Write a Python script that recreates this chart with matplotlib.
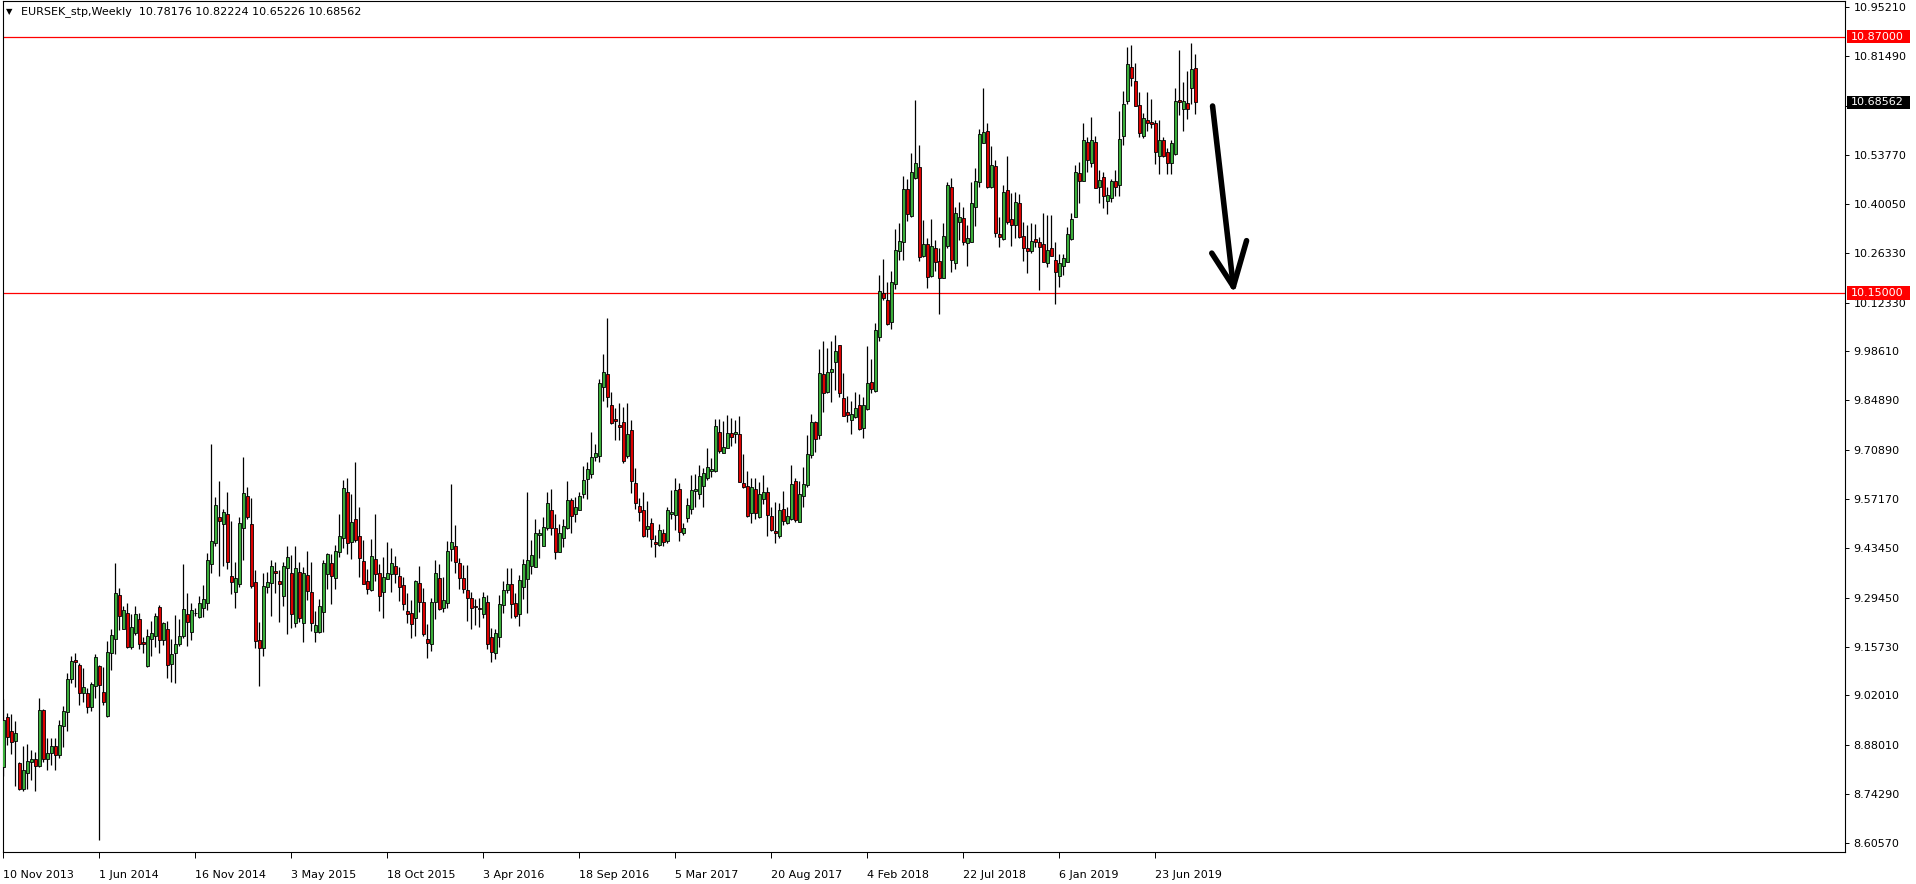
import matplotlib
matplotlib.use('Agg')
import matplotlib.pyplot as plt
from matplotlib.patches import Rectangle
from matplotlib.transforms import blended_transform_factory

# weekly EURSEK candles (oldest first)
opens = [
    8.820, 8.959, 8.919, 8.893, 8.831, 8.758, 8.803, 8.834, 8.841, 8.823,
    8.979, 8.842, 8.860, 8.878, 8.853, 8.935, 8.975, 9.065, 9.120, 9.106,
    9.026, 9.026, 8.989, 9.048, 9.103, 9.029, 8.963, 9.138, 9.178, 9.302,
    9.208, 9.253, 9.155, 9.195, 9.234, 9.169, 9.103, 9.178, 9.188, 9.268,
    9.176, 9.207, 9.108, 9.138, 9.164, 9.188, 9.248, 9.199, 9.251, 9.241,
    9.265, 9.279, 9.388, 9.447, 9.520, 9.501, 9.531, 9.355, 9.312, 9.333,
    9.489, 9.580, 9.501, 9.338, 9.176, 9.154, 9.326, 9.337, 9.370, 9.341,
    9.300, 9.377, 9.363, 9.224, 9.366, 9.223, 9.357, 9.310, 9.197, 9.197,
    9.255, 9.361, 9.391, 9.351, 9.424, 9.463, 9.590, 9.452, 9.515, 9.467,
    9.398, 9.341, 9.315, 9.403, 9.363, 9.312, 9.348, 9.362, 9.384, 9.355,
    9.329, 9.257, 9.251, 9.237, 9.335, 9.282, 9.178, 9.164, 9.282, 9.351,
    9.265, 9.281, 9.430, 9.439, 9.392, 9.351, 9.316, 9.293, 9.271, 9.267,
    9.248, 9.282, 9.183, 9.138, 9.185, 9.273, 9.315, 9.332, 9.280, 9.248,
    9.324, 9.346, 9.385, 9.382, 9.472, 9.441, 9.491, 9.540, 9.489, 9.424,
    9.463, 9.489, 9.568, 9.529, 9.541, 9.585, 9.627, 9.641, 9.690, 9.693,
    9.885, 9.922, 9.837, 9.795, 9.779, 9.787, 9.693, 9.765, 9.618, 9.552,
    9.541, 9.488, 9.503, 9.452, 9.443, 9.475, 9.455, 9.530, 9.527, 9.600,
    9.477, 9.519, 9.545, 9.595, 9.585, 9.609, 9.630, 9.649, 9.649, 9.761,
    9.702, 9.716, 9.758, 9.753, 9.754, 9.618, 9.608, 9.533, 9.599, 9.522,
    9.572, 9.590, 9.524, 9.483, 9.469, 9.543, 9.505, 9.516, 9.622, 9.508,
    9.581, 9.611, 9.695, 9.787, 9.750, 9.922, 9.873, 9.929, 9.955, 10.003,
    9.854, 9.816, 9.794, 9.803, 9.836, 9.770, 9.824, 9.899, 9.876, 10.027,
    10.149, 10.130, 10.068, 10.174, 10.269, 10.292, 10.441, 10.367, 10.472, 10.504,
    10.255, 10.289, 10.199, 10.275, 10.240, 10.193, 10.283, 10.447, 10.233, 10.348,
    10.360, 10.290, 10.294, 10.392, 10.462, 10.572, 10.605, 10.447, 10.507, 10.316,
    10.301, 10.438, 10.358, 10.341, 10.403, 10.310, 10.277, 10.269, 10.302, 10.293,
    10.289, 10.235, 10.275, 10.243, 10.199, 10.227, 10.238, 10.301, 10.364, 10.486,
    10.465, 10.574, 10.514, 10.573, 10.449, 10.476, 10.409, 10.418, 10.464, 10.452,
    10.592, 10.689, 10.784, 10.745, 10.677, 10.592, 10.636, 10.630, 10.626, 10.536,
    10.580, 10.546, 10.514, 10.539, 10.691, 10.666, 10.683, 10.725, 10.78176,
]
highs = [
    9.009, 8.970, 8.968, 8.948, 8.834, 8.878, 8.884, 8.867, 8.862, 9.014,
    8.981, 8.900, 8.900, 8.900, 8.951, 8.991, 9.082, 9.131, 9.140, 9.110,
    9.098, 9.040, 9.059, 9.137, 9.105, 9.101, 9.174, 9.207, 9.391, 9.321,
    9.271, 9.279, 9.249, 9.271, 9.253, 9.185, 9.206, 9.229, 9.253, 9.274,
    9.227, 9.229, 9.179, 9.246, 9.234, 9.389, 9.307, 9.281, 9.267, 9.300,
    9.330, 9.419, 9.726, 9.578, 9.622, 9.545, 9.592, 9.510, 9.395, 9.520,
    9.690, 9.604, 9.574, 9.372, 9.225, 9.363, 9.368, 9.400, 9.396, 9.372,
    9.394, 9.440, 9.414, 9.440, 9.396, 9.382, 9.426, 9.395, 9.257, 9.290,
    9.400, 9.419, 9.417, 9.443, 9.530, 9.625, 9.630, 9.586, 9.675, 9.548,
    9.457, 9.374, 9.459, 9.531, 9.388, 9.409, 9.450, 9.435, 9.412, 9.382,
    9.354, 9.307, 9.288, 9.344, 9.384, 9.323, 9.221, 9.295, 9.400, 9.388,
    9.354, 9.455, 9.614, 9.499, 9.407, 9.386, 9.386, 9.312, 9.291, 9.293,
    9.311, 9.302, 9.209, 9.207, 9.302, 9.341, 9.379, 9.379, 9.309, 9.358,
    9.402, 9.590, 9.457, 9.516, 9.487, 9.522, 9.590, 9.600, 9.530, 9.502,
    9.516, 9.622, 9.575, 9.578, 9.590, 9.664, 9.675, 9.760, 9.726, 9.909,
    9.979, 10.079, 9.871, 9.826, 9.840, 9.829, 9.840, 9.793, 9.660, 9.574,
    9.592, 9.567, 9.517, 9.471, 9.501, 9.487, 9.550, 9.597, 9.632, 9.616,
    9.503, 9.575, 9.639, 9.642, 9.667, 9.660, 9.714, 9.686, 9.796, 9.796,
    9.791, 9.807, 9.800, 9.793, 9.805, 9.698, 9.649, 9.630, 9.630, 9.619,
    9.639, 9.606, 9.550, 9.564, 9.560, 9.594, 9.548, 9.667, 9.630, 9.622,
    9.661, 9.751, 9.810, 9.791, 9.993, 10.015, 9.997, 10.015, 10.032, 10.005,
    9.925, 9.861, 9.848, 9.871, 9.866, 9.859, 10.001, 9.964, 10.067, 10.201,
    10.245, 10.181, 10.213, 10.330, 10.347, 10.479, 10.469, 10.544, 10.692, 10.566,
    10.355, 10.304, 10.358, 10.299, 10.275, 10.346, 10.463, 10.472, 10.392, 10.405,
    10.392, 10.341, 10.461, 10.500, 10.610, 10.725, 10.626, 10.563, 10.523, 10.364,
    10.453, 10.535, 10.430, 10.433, 10.428, 10.348, 10.341, 10.347, 10.344, 10.308,
    10.374, 10.369, 10.369, 10.292, 10.260, 10.260, 10.336, 10.374, 10.509, 10.519,
    10.626, 10.589, 10.643, 10.591, 10.495, 10.491, 10.449, 10.471, 10.495, 10.661,
    10.718, 10.840, 10.846, 10.795, 10.715, 10.654, 10.715, 10.694, 10.636, 10.636,
    10.589, 10.556, 10.580, 10.725, 10.832, 10.741, 10.774, 10.851, 10.82224,
]
lows = [
    8.795, 8.881, 8.855, 8.767, 8.755, 8.753, 8.758, 8.783, 8.753, 8.820,
    8.834, 8.811, 8.825, 8.811, 8.845, 8.876, 8.921, 9.056, 9.045, 8.993,
    9.003, 8.970, 8.977, 9.014, 8.613, 8.993, 8.961, 9.093, 9.136, 9.204,
    9.207, 9.153, 9.150, 9.190, 9.152, 9.138, 9.101, 9.131, 9.157, 9.138,
    9.162, 9.070, 9.059, 9.056, 9.159, 9.182, 9.159, 9.176, 9.243, 9.238,
    9.241, 9.260, 9.365, 9.440, 9.356, 9.384, 9.374, 9.304, 9.265, 9.326,
    9.400, 9.515, 9.323, 9.154, 9.048, 9.132, 9.307, 9.244, 9.307, 9.225,
    9.272, 9.193, 9.210, 9.213, 9.227, 9.171, 9.288, 9.201, 9.171, 9.195,
    9.197, 9.318, 9.276, 9.320, 9.410, 9.435, 9.416, 9.402, 9.452, 9.352,
    9.332, 9.304, 9.313, 9.341, 9.258, 9.237, 9.347, 9.310, 9.337, 9.285,
    9.260, 9.224, 9.182, 9.188, 9.255, 9.188, 9.124, 9.146, 9.235, 9.260,
    9.255, 9.265, 9.398, 9.363, 9.320, 9.309, 9.230, 9.206, 9.218, 9.213,
    9.237, 9.150, 9.115, 9.122, 9.157, 9.253, 9.309, 9.237, 9.237, 9.216,
    9.290, 9.251, 9.360, 9.381, 9.407, 9.440, 9.485, 9.472, 9.403, 9.423,
    9.438, 9.487, 9.475, 9.508, 9.540, 9.575, 9.572, 9.632, 9.678, 9.676,
    9.847, 9.831, 9.783, 9.737, 9.737, 9.674, 9.688, 9.588, 9.543, 9.511,
    9.466, 9.466, 9.438, 9.410, 9.440, 9.440, 9.449, 9.515, 9.485, 9.455,
    9.472, 9.508, 9.531, 9.548, 9.571, 9.548, 9.625, 9.634, 9.648, 9.700,
    9.700, 9.715, 9.721, 9.730, 9.619, 9.603, 9.520, 9.505, 9.515, 9.517,
    9.557, 9.469, 9.482, 9.449, 9.461, 9.499, 9.502, 9.513, 9.508, 9.507,
    9.550, 9.605, 9.686, 9.705, 9.739, 9.817, 9.868, 9.843, 9.878, 9.857,
    9.805, 9.789, 9.753, 9.800, 9.765, 9.744, 9.822, 9.870, 9.873, 10.015,
    10.130, 10.059, 10.048, 10.160, 10.243, 10.243, 10.353, 10.362, 10.469, 10.241,
    10.252, 10.163, 10.196, 10.213, 10.091, 10.191, 10.275, 10.210, 10.217, 10.299,
    10.285, 10.226, 10.292, 10.339, 10.447, 10.572, 10.446, 10.446, 10.308, 10.280,
    10.300, 10.344, 10.283, 10.305, 10.305, 10.241, 10.207, 10.263, 10.280, 10.158,
    10.236, 10.222, 10.254, 10.119, 10.168, 10.201, 10.236, 10.300, 10.362, 10.402,
    10.464, 10.491, 10.505, 10.445, 10.404, 10.388, 10.372, 10.406, 10.423, 10.422,
    10.566, 10.682, 10.731, 10.675, 10.587, 10.584, 10.606, 10.614, 10.512, 10.483,
    10.533, 10.484, 10.483, 10.537, 10.650, 10.605, 10.638, 10.682, 10.65226,
]
closes = [
    8.951, 8.904, 8.890, 8.914, 8.758, 8.811, 8.836, 8.841, 8.823, 8.979,
    8.842, 8.860, 8.878, 8.853, 8.937, 8.977, 9.066, 9.117, 9.115, 9.026,
    9.043, 8.987, 9.052, 9.127, 9.050, 9.003, 9.143, 9.190, 9.307, 9.244,
    9.259, 9.155, 9.212, 9.249, 9.164, 9.164, 9.187, 9.196, 9.243, 9.176,
    9.223, 9.105, 9.136, 9.166, 9.188, 9.262, 9.225, 9.259, 9.253, 9.279,
    9.291, 9.400, 9.454, 9.554, 9.510, 9.536, 9.394, 9.340, 9.349, 9.503,
    9.588, 9.522, 9.328, 9.174, 9.154, 9.327, 9.338, 9.384, 9.365, 9.332,
    9.384, 9.408, 9.248, 9.377, 9.239, 9.363, 9.314, 9.223, 9.217, 9.271,
    9.391, 9.416, 9.356, 9.426, 9.468, 9.602, 9.447, 9.506, 9.457, 9.405,
    9.334, 9.320, 9.411, 9.362, 9.300, 9.353, 9.363, 9.391, 9.362, 9.326,
    9.276, 9.248, 9.220, 9.341, 9.283, 9.192, 9.167, 9.282, 9.363, 9.262,
    9.288, 9.426, 9.450, 9.396, 9.351, 9.318, 9.293, 9.265, 9.268, 9.264,
    9.297, 9.164, 9.141, 9.195, 9.276, 9.315, 9.332, 9.276, 9.243, 9.343,
    9.388, 9.400, 9.414, 9.475, 9.475, 9.492, 9.560, 9.489, 9.424, 9.475,
    9.495, 9.568, 9.524, 9.548, 9.581, 9.624, 9.655, 9.689, 9.700, 9.896,
    9.927, 9.857, 9.784, 9.792, 9.775, 9.677, 9.753, 9.623, 9.560, 9.536,
    9.469, 9.496, 9.460, 9.444, 9.485, 9.452, 9.541, 9.535, 9.597, 9.480,
    9.489, 9.555, 9.597, 9.600, 9.636, 9.644, 9.661, 9.656, 9.777, 9.707,
    9.717, 9.756, 9.747, 9.759, 9.620, 9.604, 9.524, 9.605, 9.533, 9.585,
    9.590, 9.527, 9.485, 9.477, 9.541, 9.511, 9.524, 9.614, 9.513, 9.585,
    9.614, 9.697, 9.787, 9.740, 9.925, 9.868, 9.929, 9.936, 9.986, 9.870,
    9.806, 9.807, 9.810, 9.826, 9.768, 9.835, 9.896, 9.880, 10.046, 10.155,
    10.137, 10.062, 10.180, 10.271, 10.296, 10.441, 10.371, 10.489, 10.514, 10.252,
    10.289, 10.196, 10.282, 10.238, 10.191, 10.309, 10.452, 10.243, 10.374, 10.364,
    10.292, 10.304, 10.402, 10.464, 10.596, 10.601, 10.447, 10.508, 10.318, 10.306,
    10.434, 10.348, 10.341, 10.406, 10.306, 10.277, 10.269, 10.296, 10.294, 10.280,
    10.238, 10.271, 10.255, 10.208, 10.233, 10.247, 10.316, 10.358, 10.489, 10.465,
    10.580, 10.523, 10.580, 10.446, 10.467, 10.423, 10.425, 10.464, 10.447, 10.582,
    10.681, 10.793, 10.753, 10.676, 10.600, 10.640, 10.628, 10.625, 10.547, 10.580,
    10.536, 10.516, 10.570, 10.689, 10.685, 10.689, 10.666, 10.778, 10.68562,
]
assert len(opens) == len(highs) == len(lows) == len(closes)

date_pos = [0, 24, 48, 72, 96, 120, 144, 168, 192, 216, 240, 264, 288]
date_labels = ['10 Nov 2013', '1 Jun 2014', '16 Nov 2014', '3 May 2015', '18 Oct 2015',
               '3 Apr 2016', '18 Sep 2016', '5 Mar 2017', '20 Aug 2017', '4 Feb 2018',
               '22 Jul 2018', '6 Jan 2019', '23 Jun 2019']
price_ticks = [10.9521, 10.8149, 10.6763, 10.5377, 10.4005, 10.2633, 10.1233, 9.9861,
               9.8489, 9.7089, 9.5717, 9.4345, 9.2945, 9.1573, 9.0201, 8.8801, 8.7429, 8.6057]
levels = [10.87, 10.15]
# hand drawn arrow: (bar, price) points
arrow_shaft = ([302.3, 307.5], [10.675, 10.168])
arrow_left = ([302.1, 307.5], [10.262, 10.168])
arrow_right = ([310.8, 307.5], [10.297, 10.168])

W, H = 1916, 884
fig = plt.figure(figsize=(W / 100, H / 100), dpi=100)
ax = fig.add_axes([2.5 / W, 1 - 852 / H, (1845 - 2.5) / W, 851 / H])

x = list(range(len(opens)))
colors = ['#3aae3a' if c >= o else '#dc0000' for o, c in zip(opens, closes)]
bottoms = [min(o, c) for o, c in zip(opens, closes)]
heights = [max(abs(c - o), 0.0008) for o, c in zip(opens, closes)]

ax.vlines(x, lows, highs, color='black', linewidth=0.9, zorder=2, snap=True)
ax.bar(x, heights, bottom=bottoms, width=0.8, color=colors, edgecolor='black',
       linewidth=0.6, zorder=3)

for lv in levels:
    ax.axhline(lv, color='red', linewidth=0.9, zorder=1)

for xs, ys in (arrow_shaft, arrow_left, arrow_right):
    ax.plot(xs, ys, color='black', linewidth=4.0, solid_capstyle='round', zorder=4)

ax.set_xlim(-0.2, 460.4)
ax.set_ylim(8.5807, 10.9698)

# the tick label under the current price tag is covered in the original
ax.yaxis.tick_right()
ax.set_yticks(price_ticks)
ax.set_yticklabels(['' if abs(p - 10.6763) < 1e-6 else f'{p:.5f}' for p in price_ticks])
ax.tick_params(axis='y', direction='out', length=3, width=0.7, pad=3, labelsize=8)
ax.set_xticks(date_pos)
ax.set_xticklabels(date_labels)
ax.tick_params(axis='x', direction='out', length=4, width=0.7, pad=9, labelsize=8)
for lbl in ax.get_xticklabels():
    lbl.set_horizontalalignment('left')
for sp in ax.spines.values():
    sp.set_linewidth(0.8)
    sp.set_color('black')

# price tags on the right scale
trans = blended_transform_factory(fig.transFigure, ax.transData)
for price, face in ((10.87, '#ff0000'), (10.15, '#ff0000'), (closes[-1], 'black')):
    ax.add_patch(Rectangle((1847 / W, price - 0.0185), 63 / W, 0.037, transform=trans,
                           facecolor=face, edgecolor='none', clip_on=False, zorder=5))
    ax.text(1851 / W, price, f'{price:.5f}', transform=trans, color='white', fontsize=8,
            va='center', ha='left', clip_on=False, zorder=6)

fig.text(6 / W, 1 - 12 / H, '\u25bc', fontsize=6, va='center', ha='left')
fig.text(21 / W, 1 - 12 / H,
         'EURSEK_stp,Weekly  %.5f %.5f %.5f %.5f' % (opens[-1], highs[-1], lows[-1], closes[-1]),
         fontsize=8, va='center', ha='left')

fig.savefig('out.png', dpi=100, facecolor='white')
